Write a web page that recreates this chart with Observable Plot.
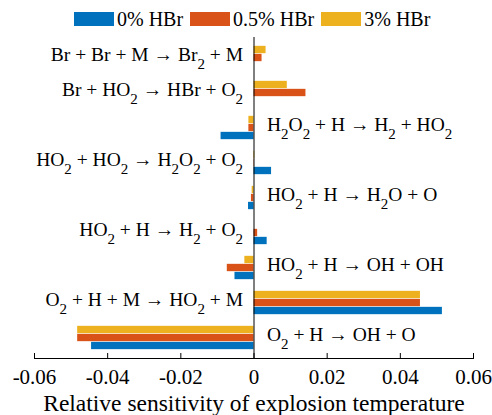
<!DOCTYPE html>
<html><head><meta charset="utf-8">
<script src="https://cdn.jsdelivr.net/npm/d3@7"></script>
<script src="https://cdn.jsdelivr.net/npm/@observablehq/plot@0.6"></script>
<style>
body{margin:0;background:#fff;font-family:"Liberation Serif",serif;color:#000;}
svg text{font-family:"Liberation Serif","Times New Roman",serif;}
#legend{box-sizing:border-box;height:35px;padding-top:3px;padding-left:74px;display:flex;align-items:center;font-size:20px;}
#legend .sw{width:40px;height:14px;margin-right:3px;}
#legend .lb{margin-right:7px;white-space:nowrap;}
</style></head><body>
<div id="legend"></div>
<div id="chart"></div>
<script>
const reactions = [
  "Br + Br + M → Br_2 + M",
  "Br + HO_2 → HBr + O_2",
  "H_2O_2 + H → H_2 + HO_2",
  "HO_2 + HO_2 → H_2O_2 + O_2",
  "HO_2 + H → H_2O + O",
  "HO_2 + H → H_2 + O_2",
  "HO_2 + H → OH + OH",
  "O_2 + H + M → HO_2 + M",
  "O_2 + H → OH + O"
];
const series = ["0% HBr", "0.5% HBr", "3% HBr"];
const hbr0  = [0, 0, -0.0090, 0.0048, -0.0015, 0.0036, -0.0052, 0.0515, -0.0444];
const hbr05 = [0.0022, 0.0142, -0.0014, 0.0001, -0.0007, 0.0010, -0.0073, 0.0455, -0.0482];
const hbr3  = [0.0033, 0.0091, -0.0014, 0.0002, -0.0005, 0, -0.0025, 0.0455, -0.0482];
const xTicks = [-0.06, -0.04, -0.02, 0, 0.02, 0.04, 0.06];
const xTickLabels = ["-0.06", "-0.04", "-0.02", "0", "0.02", "0.04", "0.06"];
const xLabel = "Relative sensitivity of explosion temperature";
const colors = ["#0072BD", "#D95319", "#EDB120"];

const valueSets = [hbr0, hbr05, hbr3];
const table = [];
reactions.forEach((r, i) => series.forEach((s, j) => table.push({reaction: r, series: s, value: valueSets[j][i]})));
const sums = reactions.map((r, i) => hbr0[i] + hbr05[i] + hbr3[i]);
const leftLabels = reactions.filter((r, i) => sums[i] > 0);
const rightLabels = reactions.filter((r, i) => sums[i] <= 0);

// legend
const lg = document.getElementById("legend");
series.forEach((s, j) => {
  const sw = document.createElement("div"); sw.className = "sw"; sw.style.background = colors[j];
  const lb = document.createElement("div"); lb.className = "lb"; lb.textContent = s;
  lg.appendChild(sw); lg.appendChild(lb);
});

const FONT = "'Liberation Serif', 'Times New Roman', serif";
const H = 380, bandBar = 8;
const plotH = H - 2 - 57;
const inset = (plotH / reactions.length - bandBar) / 2;
const offsets = [bandBar, 0, -bandBar]; // 0% bottom, 3% top

const chart = Plot.plot({
  width: 492, height: H,
  marginTop: 2, marginBottom: 57, marginLeft: 34, marginRight: 19,
  x: {domain: [-0.06, 0.06], label: null},
  y: {domain: reactions, padding: 0, axis: null},
  color: {domain: series, range: colors},
  style: {fontFamily: FONT, fontSize: "20px", color: "black", background: "white", overflow: "visible"},
  marks: [
    ...series.map((s, j) => Plot.barX(table.filter(d => d.series === s), {
      x: "value", y: "reaction", fill: "series", insetTop: inset, insetBottom: inset, dy: offsets[j]
    })),
    Plot.ruleX([0], {stroke: "black", strokeWidth: 1}),
    Plot.frame({anchor: "bottom", stroke: "black"}),
    Plot.tickX(xTicks, {x: d => d, insetTop: plotH - 5, stroke: "black"}),
    Plot.axisX(xTicks, {tickSize: 0, tickPadding: 11, fontSize: 21, fontFamily: FONT, label: null,
      tickFormat: d => xTickLabels[xTicks.indexOf(d)]}),
    Plot.text(leftLabels, {x: 0, y: d => d, text: d => d, textAnchor: "end", dx: -11, dy: -3.5, fontSize: 19.5, fontFamily: FONT}),
    Plot.text(rightLabels, {x: 0, y: d => d, text: d => d, textAnchor: "start", dx: 13, dy: -3.5, fontSize: 19.5, fontFamily: FONT}),
    Plot.text([xLabel], {frameAnchor: "bottom", lineAnchor: "top", dy: 36, fontSize: 23.5, fontFamily: FONT})
  ]
});

// render subscripts written as _2
const NS = "http://www.w3.org/2000/svg";
chart.querySelectorAll("text").forEach(el => {
  const s = el.textContent;
  if (!/_\d/.test(s)) return;
  el.textContent = "";
  const parts = s.split(/(_\d)/);
  let cur = 0;
  parts.forEach(p => {
    if (p === "") return;
    const sub = /^_\d$/.test(p);
    const target = sub ? 8 : 0;
    const t = document.createElementNS(NS, "tspan");
    if (target !== cur) t.setAttribute("dy", target - cur);
    if (sub) { t.setAttribute("font-size", "15"); t.textContent = p.slice(1); }
    else t.textContent = p;
    el.appendChild(t);
    cur = target;
  });
});

document.getElementById("chart").appendChild(chart);
</script>
</body></html>
